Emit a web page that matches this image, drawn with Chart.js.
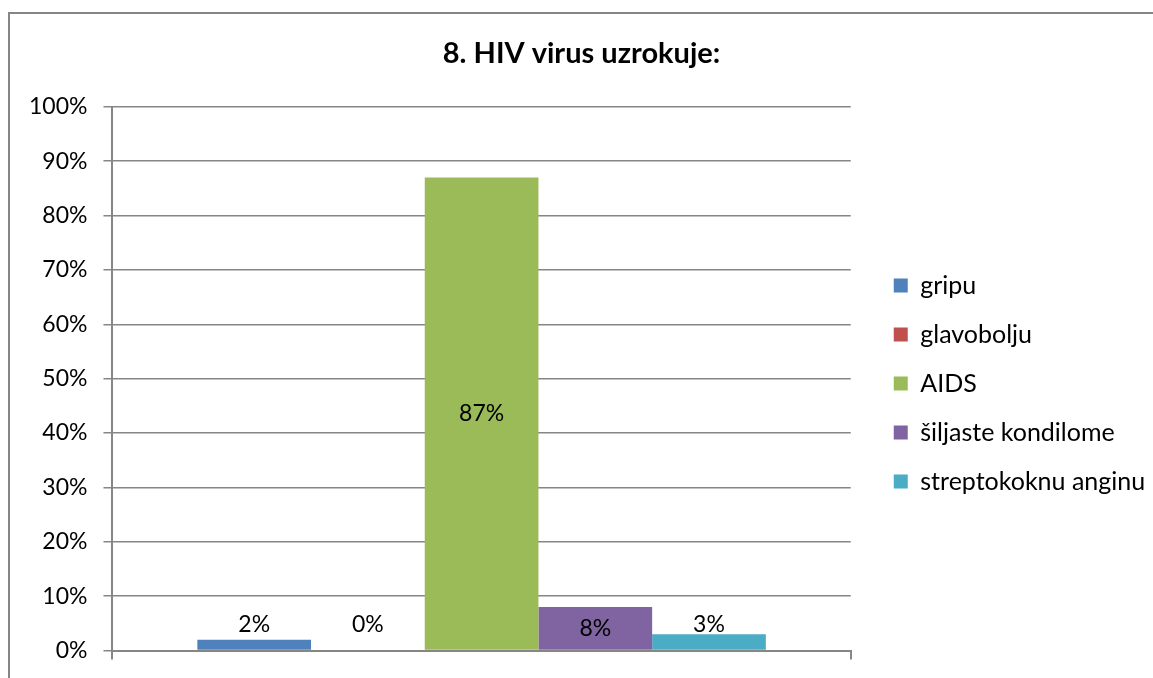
<!DOCTYPE html>
<html>
<head>
<meta charset="utf-8">
<script src="https://cdn.jsdelivr.net/npm/chart.js@4"></script>
<style>
  html, body { margin: 0; padding: 0; background: #fff; }
  #wrap { position: relative; width: 1153px; height: 678px; overflow: hidden; }
  #frame { position: absolute; left: 8px; top: 12px; width: 1200px; height: 700px; border: 2px solid #868686; }
  #chart { position: absolute; left: 0; top: 0; }
</style>
</head>
<body>
<div id="wrap">
  <div id="frame"></div>
  <canvas id="chart" width="1153" height="678"></canvas>
</div>
<script>
// answers to question 8
var categories = [""];
var seriesNames = ["gripu", "glavobolju", "AIDS", "šiljaste kondilome", "streptokoknu anginu"];
var seriesValues = [2, 0, 87, 8, 3];
var seriesColors = ["#4F81BD", "#C0504D", "#9BBB59", "#8064A2", "#4BACC6"];
var yTicks = [0, 10, 20, 30, 40, 50, 60, 70, 80, 90, 100];

var FONT = "Lato";

var datasets = [];
for (let i = 0; i < seriesNames.length; i++) {
    datasets.push({
        label: seriesNames[i],
        data: [seriesValues[i]],
        backgroundColor: seriesColors[i],
        borderWidth: 0
    });
}

// value labels: inside middle for tall bars, above for short ones
var valueLabels = {
    id: 'valueLabels',
    afterDatasetsDraw(chart) {
        var ctx = chart.ctx;
        var y = chart.scales.y;
        ctx.save();
        ctx.font = "23px " + FONT;
        ctx.fillStyle = "#000";
        ctx.textAlign = "center";
        ctx.textBaseline = "middle";
        chart.data.datasets.forEach((ds, i) => {
            var bar = chart.getDatasetMeta(i).data[0];
            var v = ds.data[0];
            var ty;
            if (v >= 5) {
                ty = (bar.y + bar.base) / 2;
            } else {
                ty = y.getPixelForValue(3) - 10;
            }
            ctx.fillText(v + "%", bar.x, ty);
        });
        ctx.restore();
    }
};

// nudge legend a bit away from the plot, and the title a bit right (excel look)
var nudge = {
    id: 'nudge',
    afterLayout(chart) {
        var lg = chart.legend;
        var w = lg.right - lg.left;
        lg.left = chart.chartArea.right + 19;
        lg.right = lg.left + w;
        lg.top += 31;
        lg.bottom += 31;
        var t = chart.titleBlock;
        t.left += 10;
        t.right += 10;
    }
};

new Chart(document.getElementById('chart'), {
    type: 'bar',
    data: { labels: categories, datasets: datasets },
    options: {
        responsive: false,
        animation: false,
        events: [],
        layout: { padding: { top: 36, left: 13, right: 23, bottom: 9 } },
        datasets: {
            bar: { categoryPercentage: 0.77, barPercentage: 1 }
        },
        scales: {
            x: {
                grid: { drawOnChartArea: false, drawTicks: true, tickLength: 9, color: "#868686", lineWidth: 2, offset: true },
                border: { color: "#868686", width: 2 },
                ticks: { display: false },
                afterFit: function (axis) { axis.height = 17; }
            },
            y: {
                min: 0,
                max: 100,
                afterBuildTicks: function (axis) {
                    axis.ticks = yTicks.map(v => ({ value: v }));
                },
                grid: { color: "#868686", lineWidth: 1.5, tickLength: 9 },
                border: { color: "#868686", width: 2 },
                ticks: {
                    padding: 16,
                    color: "#000",
                    font: { family: FONT, size: 23, lineHeight: 1 },
                    callback: v => v + "%"
                }
            }
        },
        plugins: {
            title: {
                display: true,
                text: "8. HIV virus uzrokuje:",
                color: "#000",
                font: { family: FONT, size: 29, weight: 'bold' },
                padding: { top: 0, bottom: 36 }
            },
            legend: {
                position: 'right',
                labels: {
                    boxWidth: 14,
                    boxHeight: 14,
                    padding: 24,
                    color: "#000",
                    font: { family: FONT, size: 25 }
                }
            },
            tooltip: { enabled: false }
        }
    },
    plugins: [valueLabels, nudge]
});
</script>
</body>
</html>
